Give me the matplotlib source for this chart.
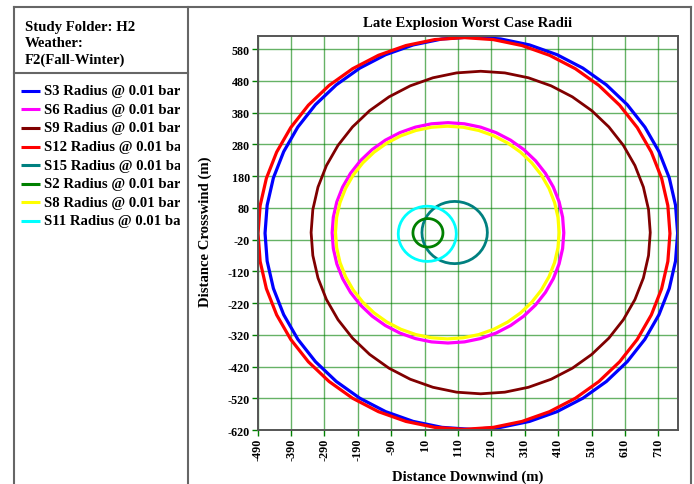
import matplotlib

matplotlib.use("Agg")
import matplotlib.pyplot as plt
from matplotlib.lines import Line2D
from matplotlib.patches import CirclePolygon

# scenario data: centre (downwind, crosswind) and radius in metres
labels = ["S3", "S6", "S9", "S12", "S15", "S2", "S8", "S11"]
centre_x = [150, 80, 178, 128, 100, 20, 78, 18]
centre_y = [0, 1, 2, -1, 2, 1, 2, -2]
radius = [618, 347, 508, 617, 98, 45, 335, 87]
colors = ["#0000ff", "#ff00ff", "#800000", "#ff0000", "#008080", "#008000", "#ffff00", "#00ffff"]
widths = [2.3, 2.3, 2.0, 2.3, 2.0, 2.0, 2.3, 2.0]

x_ticks = list(range(-490, 711, 100))
y_ticks = list(range(-620, 581, 100))

W, H = 694, 485
plt.rcParams["font.family"] = ["Liberation Serif", "DejaVu Serif"]
plt.rcParams["font.weight"] = "bold"
plt.rcParams["axes.unicode_minus"] = False

fig = plt.figure(figsize=(W / 100, H / 100), dpi=100)


def fx(px):
    return px / W


def fy(py):
    return 1 - py / H


# main plot area
ax = fig.add_axes([fx(257.7), fy(431), fx(678.3 - 257.7), (431 - 36.7) / H])
ax.set_xlim(-490, 770)
ax.set_ylim(-620, 622)
ax.set_xticks(x_ticks)
ax.set_yticks(y_ticks)
ax.set_xticklabels([str(v) for v in x_ticks], rotation=90)
ax.set_yticklabels([str(v) for v in y_ticks])
ax.tick_params(axis="both", direction="out", length=4, width=1, color="#008000",
               labelsize=8.7, pad=1.5)
for lab in ax.get_xticklabels() + ax.get_yticklabels():
    lab.set_fontweight("bold")
ax.grid(True, color="#008000", linewidth=1.0, alpha=0.6)
ax.set_axisbelow(True)
for sp in ax.spines.values():
    sp.set_color("#555555")
    sp.set_linewidth(1.4)

for cx, cy, r, c, lw in zip(centre_x, centre_y, radius, colors, widths):
    ax.add_patch(CirclePolygon((cx, cy), r, resolution=44, fill=False,
                               edgecolor=c, linewidth=lw))

fs = 10.6
fig.text(fx(468), fy(24), "Late Explosion Worst Case Radii", ha="center", va="center",
         fontsize=fs, fontweight="bold")
fig.text(fx(468), fy(477), "Distance Downwind (m)", ha="center", va="center",
         fontsize=fs, fontweight="bold")
fig.text(fx(205), fy(232), "Distance Crosswind (m)", ha="center", va="center",
         rotation=90, fontsize=fs, fontweight="bold")

# panel frames
frame = dict(color="#666666", linewidth=1.5, transform=fig.transFigure)
fig.add_artist(Line2D([fx(14), fx(691)], [fy(8), fy(8)], **frame))
fig.add_artist(Line2D([fx(14), fx(14)], [fy(8), 0], **frame))
fig.add_artist(Line2D([fx(188), fx(188)], [fy(8), 0], **frame))
fig.add_artist(Line2D([fx(691), fx(691)], [fy(8), 0], **frame))
fig.add_artist(Line2D([fx(14), fx(188)], [fy(74), fy(74)], **frame))

# header text
for i, t in enumerate(["Study Folder: H2", "Weather:", "F2(Fall-Winter)"]):
    fig.text(fx(25), fy(27 + 16.5 * i), t, ha="left", va="center", fontsize=fs,
             fontweight="bold")

# legend panel, clipped at right like the original
leg = fig.add_axes([fx(15), fy(480), fx(180 - 15), (480 - 76) / H])
leg.set_xlim(15, 180)
leg.set_ylim(480, 76)
leg.axis("off")
for i, (name, c) in enumerate(zip(labels, colors)):
    y = 91.7 + 18.6 * i
    leg.plot([21, 40], [y, y], color=c, linewidth=2.2, solid_capstyle="butt")
    t = leg.text(44, y, f"{name} Radius @ 0.01 bar", ha="left", va="center",
                 fontsize=fs, fontweight="bold")
    t.set_clip_on(True)
    t.set_clip_box(leg.bbox)

fig.savefig("out.png", dpi=100)
